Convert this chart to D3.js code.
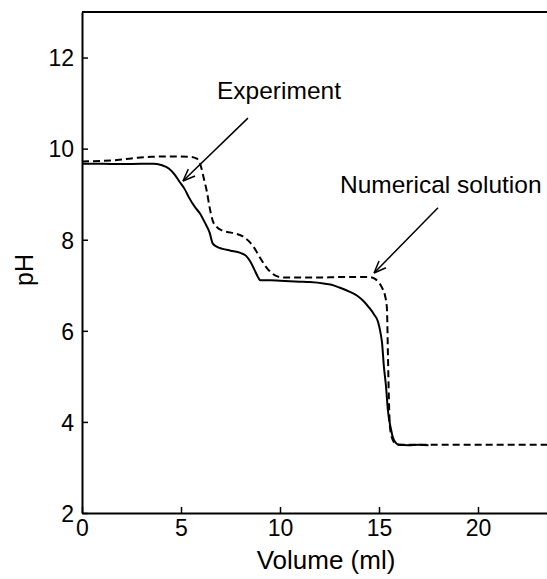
<!DOCTYPE html>
<html>
<head>
<meta charset="utf-8">
<script src="https://cdnjs.cloudflare.com/ajax/libs/d3/7.8.5/d3.min.js"></script>
<style>
  body { margin: 0; background: #fff; }
  text { font-family: "Liberation Sans", Arial, sans-serif; fill: #000; }
</style>
</head>
<body>
<script>
    var width = 547,
        height = 579,
        marginLeft = 82,
        marginTop = 12,
        plotBottom = 513;

    // Experiment (solid line): volume (ml) and pH
    var expVolume = [0, 1, 2, 3, 3.6, 4.0, 4.4, 4.7, 4.9, 5.2, 5.4, 5.7, 5.95, 6.2, 6.45, 6.6, 6.8, 7.1, 7.5, 8.0,
        8.3, 8.5, 8.7, 8.9, 9.0, 9.5, 10, 10.5, 11, 11.5, 12.2, 12.6, 13.0, 13.5, 13.9, 14.2, 14.5, 14.75, 14.95, 15.1,
        15.15, 15.25, 15.35, 15.45, 15.6, 15.7, 15.85, 16.0, 16.5, 17.0, 17.5];
    var expPH = [9.67, 9.67, 9.66, 9.67, 9.67, 9.64, 9.56, 9.42, 9.29, 9.10, 8.93, 8.72, 8.58, 8.38, 8.15, 7.92, 7.85, 7.80, 7.76, 7.71,
        7.64, 7.52, 7.35, 7.17, 7.11, 7.11, 7.10, 7.09, 7.08, 7.07, 7.04, 7.01, 6.95, 6.86, 6.77, 6.66, 6.51, 6.36, 6.20, 5.90,
        5.75, 5.20, 4.80, 4.25, 3.85, 3.66, 3.54, 3.50, 3.49, 3.50, 3.49];

    // Numerical solution (dashed line)
    var numVolume = [0, 1, 2, 2.8, 3.5, 4.5, 5.5, 5.8, 6.0, 6.15, 6.3, 6.45, 6.6, 6.8, 7.1, 7.6, 8.1, 8.4, 8.7, 9.0,
        9.3, 9.6, 9.9, 10.3, 11, 12, 13, 14, 14.55, 14.8, 14.95, 15.15, 15.3, 15.4, 15.45, 15.5, 15.55, 15.7, 15.85, 16.0,
        17, 20, 24];
    var numPH = [9.72, 9.73, 9.76, 9.80, 9.82, 9.83, 9.82, 9.78, 9.62, 9.35, 9.07, 8.70, 8.42, 8.28, 8.20, 8.15, 8.08, 7.98, 7.82, 7.60,
        7.40, 7.26, 7.19, 7.17, 7.17, 7.17, 7.18, 7.18, 7.18, 7.14, 7.08, 6.95, 6.78, 6.50, 5.50, 4.50, 3.90, 3.60, 3.52, 3.50,
        3.50, 3.50, 3.50];

    var xTicks = [0, 5, 10, 15, 20],
        yTicks = [2, 4, 6, 8, 10, 12];

    var x = d3.scaleLinear().domain([0, 24]).range([marginLeft, marginLeft + 24 * 19.8]);
    var y = d3.scaleLinear().domain([2, 13]).range([plotBottom, marginTop]);

    var svg = d3.select("body")
        .append("svg")
        .attr("width", width)
        .attr("height", height);

    // frame (top and left lines, right side runs off the picture)
    svg.append("line")
        .attr("x1", x(0)).attr("x2", x(24))
        .attr("y1", y(13)).attr("y2", y(13))
        .attr("stroke", "#000").attr("stroke-width", 2);

    var xAxis = svg.append("g")
        .attr("transform", "translate(0," + plotBottom + ")")
        .call(d3.axisBottom(x).tickValues(xTicks).tickSizeInner(-6).tickSizeOuter(0).tickPadding(6));

    var yAxis = svg.append("g")
        .attr("transform", "translate(" + marginLeft + ",0)")
        .call(d3.axisLeft(y).tickValues(yTicks).tickSizeInner(-6).tickSizeOuter(0).tickPadding(8));

    [xAxis, yAxis].forEach(function (g) {
        g.select(".domain").attr("stroke", "#000").attr("stroke-width", 2);
        g.selectAll(".tick line").attr("stroke", "#000").attr("stroke-width", 1.5);
        g.selectAll(".tick text")
            .style("font-size", "23px")
            .style("font-family", "Liberation Sans, Arial, sans-serif")
            .attr("fill", "#000");
    });
    xAxis.selectAll(".tick text").attr("dy", "0.72em");
    yAxis.selectAll(".tick text").attr("dy", "0.36em");

    // curves
    var line = d3.line()
        .x(function (d) { return x(d[0]); })
        .y(function (d) { return y(d[1]); })
        .curve(d3.curveMonotoneX);

    svg.append("path")
        .datum(d3.zip(expVolume, expPH))
        .attr("d", line)
        .attr("fill", "none")
        .attr("stroke", "#000")
        .attr("stroke-width", 2);

    svg.append("path")
        .datum(d3.zip(numVolume, numPH))
        .attr("d", line)
        .attr("fill", "none")
        .attr("stroke", "#000")
        .attr("stroke-width", 2)
        .attr("stroke-dasharray", "7,4");

    // annotations with arrows
    var notes = [
        {label: "Experiment", tx: 6.82, ty: 11.10, from: [8.38, 10.67], to: [5.1, 9.29]},
        {label: "Numerical solution", tx: 13.03, ty: 9.02, from: [17.98, 8.70], to: [14.75, 7.27]}
    ];

    notes.forEach(function (n) {
        svg.append("text")
            .attr("x", x(n.tx))
            .attr("y", y(n.ty))
            .style("font-size", "24.5px")
            .text(n.label);

        var x1 = x(n.from[0]), y1 = y(n.from[1]),
            x2 = x(n.to[0]), y2 = y(n.to[1]),
            ang = Math.atan2(y2 - y1, x2 - x1),
            head = 13, spread = 0.38;

        svg.append("line")
            .attr("x1", x1).attr("y1", y1).attr("x2", x2).attr("y2", y2)
            .attr("stroke", "#000").attr("stroke-width", 1.5);

        [-spread, spread].forEach(function (s) {
            svg.append("line")
                .attr("x1", x2).attr("y1", y2)
                .attr("x2", x2 - head * Math.cos(ang + s))
                .attr("y2", y2 - head * Math.sin(ang + s))
                .attr("stroke", "#000").attr("stroke-width", 1.5);
        });
    });

    // axis titles
    svg.append("text")
        .attr("x", 326)
        .attr("y", 569)
        .attr("text-anchor", "middle")
        .style("font-size", "26px")
        .text("Volume (ml)");

    svg.append("text")
        .attr("transform", "translate(33,270) rotate(-90)")
        .attr("text-anchor", "middle")
        .style("font-size", "25px")
        .text("pH");
</script>
</body>
</html>
